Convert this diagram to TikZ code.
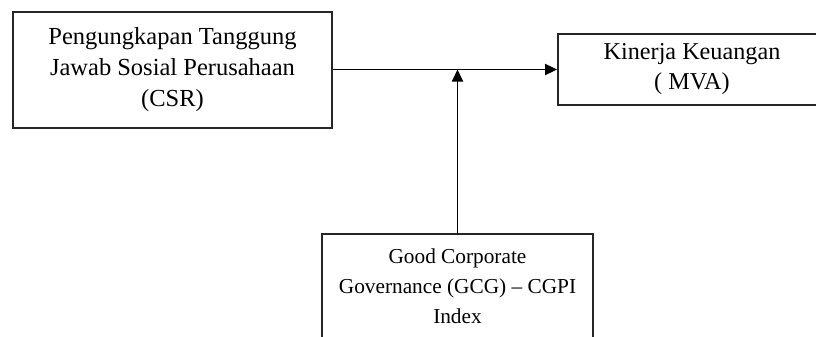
\documentclass[tikz,border=0pt]{standalone}
\usepackage{fontspec}
\setmainfont{Liberation Serif}
\usetikzlibrary{arrows.meta}
\begin{document}
\begin{tikzpicture}[x=1pt,y=-1pt,
  box/.style={draw=black!85,line width=1.8pt,rectangle,inner sep=0pt,align=center,text=black},
  arr/.style={draw=black,line width=1.8pt,-{Triangle[length=12pt,width=11pt]}}]
\useasboundingbox (0,0) rectangle (816,337);
\node[box,minimum width=319pt,minimum height=116pt,font=\fontsize{24.5}{31}\selectfont] (csr) at (172.5,70)
  {Pengungkapan Tanggung\\Jawab Sosial Perusahaan\\(CSR)};
\node[box,minimum width=268pt,minimum height=71pt,font=\fontsize{24.2}{30}\selectfont] (mva) at (692,69.5)
  {Kinerja Keuangan\\( MVA)};
\node[box,draw=none,minimum width=269pt,minimum height=102pt,font=\fontsize{21.3}{30}\selectfont] (gcg) at (457.5,286)
  {Good Corporate\\Governance (GCG) -- CGPI\\Index};
\draw[draw=black!85,line width=1.8pt] (gcg.south west) -- (gcg.north west) -- (gcg.north east) -- (gcg.south east);
\coordinate (join) at (gcg.north |- mva.west);
\draw[arr] (csr.east |- mva.west) -- (mva.west);
\draw[arr] (gcg.north) -- (join);
\end{tikzpicture}
\end{document}
